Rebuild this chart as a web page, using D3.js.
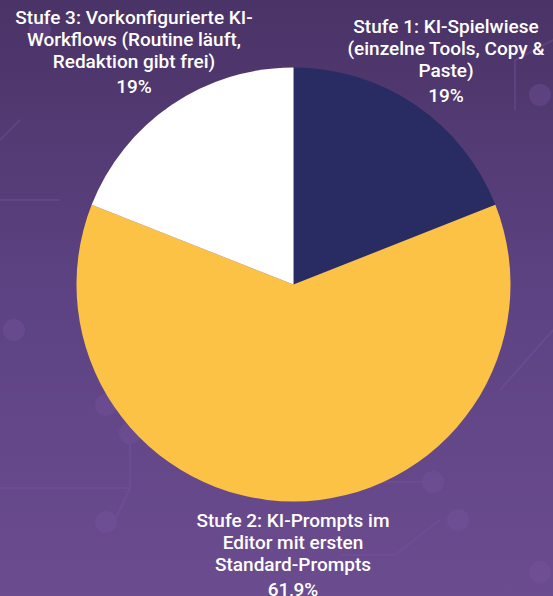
<!DOCTYPE html>
<html>
<head>
<meta charset="utf-8">
<script src="https://cdn.jsdelivr.net/npm/d3@7"></script>
<style>
  html, body { margin: 0; padding: 0; }
  body { width: 553px; height: 596px; overflow: hidden; }
  svg { display: block; }
</style>
</head>
<body>
<svg id="chart" width="553" height="596"></svg>
<script>
// Data
const categories = [
  "Stufe 1: KI-Spielwiese (einzelne Tools, Copy & Paste)",
  "Stufe 2: KI-Prompts im Editor mit ersten Standard-Prompts",
  "Stufe 3: Vorkonfigurierte KI-Workflows (Routine läuft, Redaktion gibt frei)"
];
const values = [19, 61.9, 19];
const valueLabels = ["19%", "61,9%", "19%"];
const labelLines = [
  ["Stufe 1: KI-Spielwiese", "(einzelne Tools, Copy &", "Paste)"],
  ["Stufe 2: KI-Prompts im", "Editor mit ersten", "Standard-Prompts"],
  ["Stufe 3: Vorkonfigurierte KI-", "Workflows (Routine läuft,", "Redaktion gibt frei)"]
];
const colors = ["#282c62", "#fbc246", "#ffffff"];

const W = 553, H = 596;
const svg = d3.select("#chart");

// Background
const defs = svg.append("defs");
const grad = defs.append("linearGradient").attr("id", "bg")
  .attr("x1", 0).attr("y1", 0).attr("x2", 0).attr("y2", 1);
grad.append("stop").attr("offset", "0%").attr("stop-color", "#4a3366");
grad.append("stop").attr("offset", "50%").attr("stop-color", "#5d4383");
grad.append("stop").attr("offset", "100%").attr("stop-color", "#6b4c8f");
svg.append("rect").attr("width", W).attr("height", H).attr("fill", "url(#bg)");

// faint circuit decoration
const deco = svg.append("g").attr("stroke", "#7a55a0").attr("fill", "#7a55a0").attr("opacity", 0.35);
const lines = [
  [[0,488],[130,488],[130,440]],[[130,488],[115,520]],
  [[376,482],[433,482]],[[440,520],[395,555],[340,555]],
  [[553,330],[500,390]],[[515,110],[515,60],[553,40]],
  [[0,140],[20,120]],[[0,200],[60,200]]
];
lines.forEach(l => deco.append("path").attr("d", d3.line()(l)).attr("fill", "none").attr("stroke-width", 2));
[[106,405],[130,433],[106,522],[14,330],[40,30],[433,482],[458,520],[540,572],[400,232],[540,95]]
  .forEach(c => deco.append("circle").attr("cx", c[0]).attr("cy", c[1]).attr("r", 11).attr("stroke", "none"));

// Pie
const cx = 293.5, cy = 284.5, R = 217;
const pie = d3.pie().sort(null).value(d => d)(values);
const arc = d3.arc().innerRadius(0).outerRadius(R);
const g = svg.append("g").attr("transform", `translate(${cx},${cy})`);
g.selectAll("path").data(pie).join("path")
  .attr("d", arc)
  .attr("fill", (d, i) => colors[i]);

// Labels
const labelPos = [[446, 26], [293, 520], [134, 17]];
const font = "Roboto, 'Noto Sans', sans-serif";
labelLines.forEach((lns, i) => {
  const t = svg.append("text")
    .attr("x", labelPos[i][0]).attr("y", labelPos[i][1])
    .attr("text-anchor", "middle")
    .attr("dominant-baseline", "central")
    .attr("fill", "#ffffff")
    .attr("font-family", font)
    .attr("font-size", 19)
    .attr("font-weight", 500);
  lns.forEach((s, j) => {
    t.append("tspan").attr("x", labelPos[i][0]).attr("y", labelPos[i][1] + j * 22).text(s);
  });
  t.append("tspan").attr("x", labelPos[i][0]).attr("y", labelPos[i][1] + lns.length * 22 + 3).text(valueLabels[i]);
});
</script>
</body>
</html>
